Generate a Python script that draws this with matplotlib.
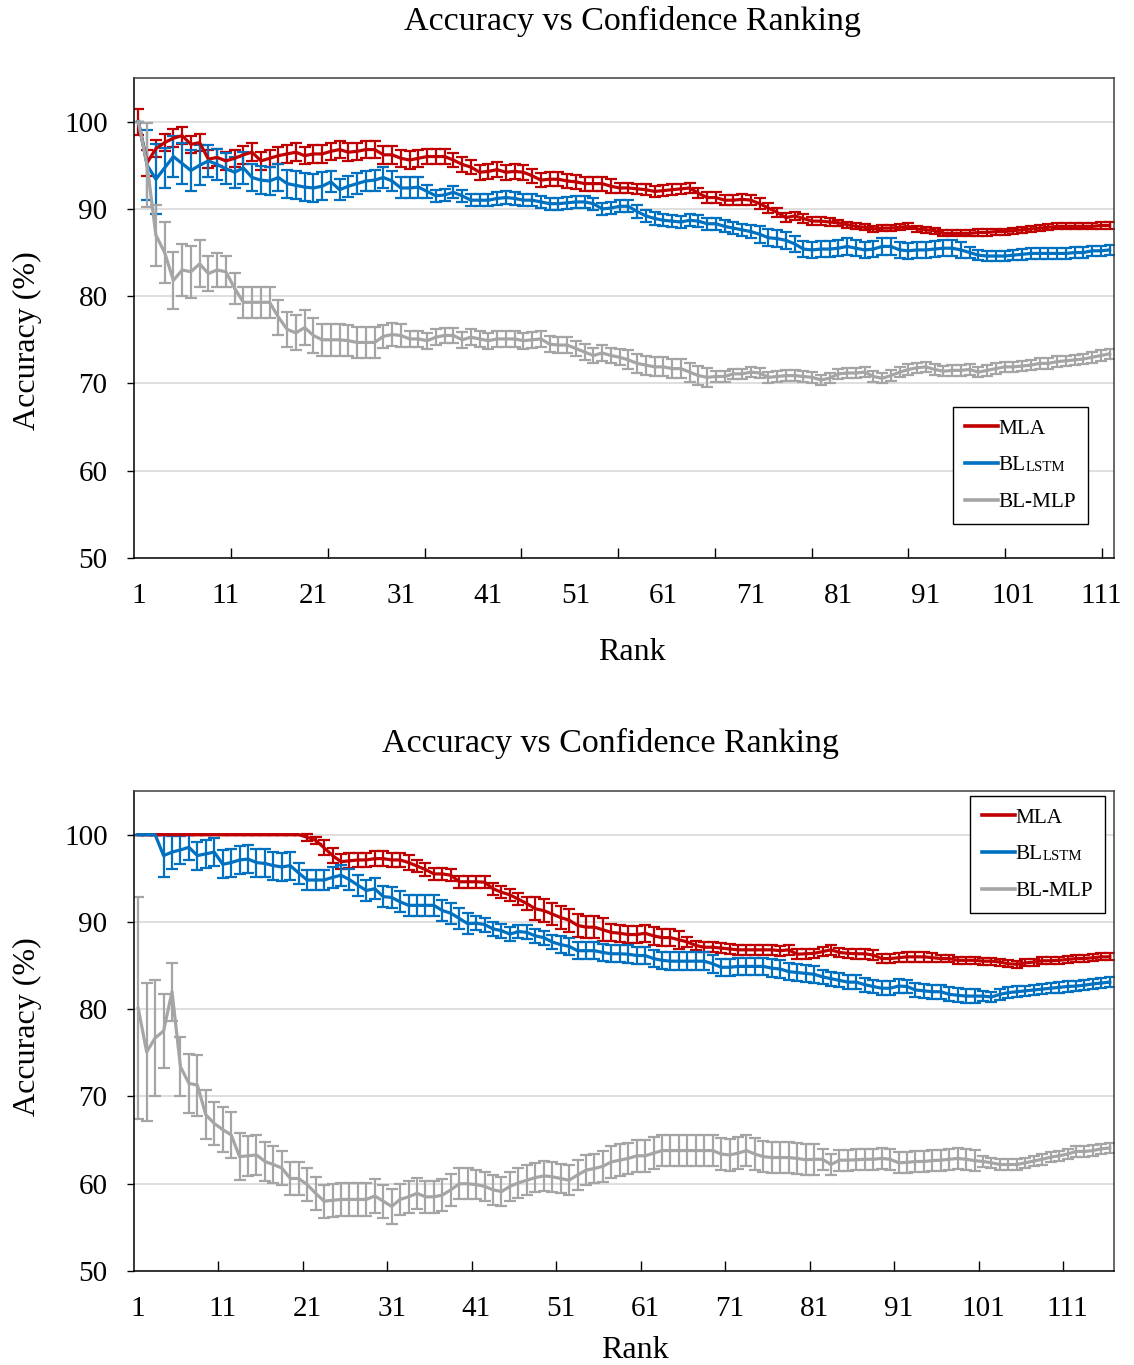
import matplotlib
matplotlib.use("Agg")
import matplotlib.pyplot as plt
from matplotlib.lines import Line2D
import numpy as np

plt.rcParams["font.family"] = ["Liberation Serif", "DejaVu Serif"]

# ---- upper chart (112 ranks) ----
top_mla = [
    100, 95.3, 96.9, 97.6, 98.1, 98.4, 97.4, 97.6, 95.7, 95.9,
    95.5, 95.8, 96.2, 96.5, 95.5, 95.8, 96.1, 96.3, 96.5, 96.1,
    96.3, 96.3, 96.6, 96.8, 96.5, 96.6, 96.8, 96.8, 96.2, 96.2,
    95.8, 95.6, 95.8, 96.0, 96.0, 96.0, 95.6, 95.1, 94.8, 94.2,
    94.3, 94.5, 94.2, 94.3, 94.2, 93.8, 93.3, 93.4, 93.4, 93.2,
    93.1, 92.9, 92.9, 92.9, 92.6, 92.4, 92.4, 92.3, 92.2, 92.0,
    92.1, 92.2, 92.3, 92.4, 91.8, 91.3, 91.3, 91.0, 91.0, 91.1,
    91.0, 90.6, 90.1, 89.6, 89.0, 89.2, 88.9, 88.6, 88.6, 88.5,
    88.4, 88.2, 88.0, 87.9, 87.7, 87.8, 87.8, 87.9, 88.0, 87.7,
    87.6, 87.5, 87.2, 87.2, 87.2, 87.2, 87.3, 87.3, 87.4, 87.4,
    87.5, 87.6, 87.7, 87.8, 87.9, 88.0, 88.0, 88.0, 88.0, 88.0,
    88.1, 88.1,
]
top_mla_err = [
    1.5, 1.5, 1.0, 1.0, 1.0, 1.0, 1.0, 1.0, 1.0, 1.0,
    1.0, 1.0, 1.0, 1.0, 1.0, 1.0, 1.0, 1.0, 1.0, 1.0,
    1.0, 1.0, 1.0, 1.0, 1.0, 1.0, 1.0, 1.0, 1.0, 1.0,
    1.0, 1.0, 1.0, 0.85, 0.85, 0.85, 0.85, 0.85, 0.85, 0.85,
    0.85, 0.85, 0.85, 0.85, 0.85, 0.8, 0.8, 0.8, 0.8, 0.8,
    0.8, 0.8, 0.8, 0.8, 0.8, 0.6, 0.6, 0.6, 0.6, 0.6,
    0.6, 0.6, 0.6, 0.6, 0.6, 0.6, 0.6, 0.6, 0.6, 0.6,
    0.6, 0.6, 0.6, 0.5, 0.5, 0.5, 0.5, 0.5, 0.5, 0.5,
    0.35, 0.35, 0.35, 0.35, 0.35, 0.35, 0.35, 0.35, 0.35, 0.35,
    0.35, 0.35, 0.35, 0.35, 0.35, 0.35, 0.35, 0.35, 0.35, 0.35,
    0.35, 0.35, 0.35, 0.35, 0.35, 0.35, 0.35, 0.35, 0.35, 0.35,
    0.35, 0.35,
]
top_lstm = [
    100, 95.0, 93.4, 94.7, 96.0, 95.2, 94.4, 95.0, 95.5, 95.1,
    94.6, 94.2, 94.7, 93.6, 93.3, 93.2, 93.6, 92.9, 92.7, 92.5,
    92.4, 92.6, 93.1, 92.2, 92.6, 92.9, 93.2, 93.3, 93.6, 93.2,
    92.4, 92.4, 92.5, 92.0, 91.5, 91.6, 91.9, 91.5, 91.0, 91.0,
    91.0, 91.2, 91.3, 91.2, 91.0, 91.0, 90.8, 90.6, 90.6, 90.7,
    90.8, 90.8, 90.6, 90.0, 90.1, 90.3, 90.3, 89.7, 89.2, 88.9,
    88.7, 88.6, 88.5, 88.7, 88.6, 88.3, 88.3, 88.0, 87.8, 87.6,
    87.4, 87.1, 86.7, 86.6, 86.4, 86.0, 85.4, 85.3, 85.4, 85.4,
    85.5, 85.7, 85.5, 85.3, 85.4, 85.7, 85.7, 85.3, 85.2, 85.3,
    85.3, 85.4, 85.5, 85.5, 85.3, 85.0, 84.7, 84.6, 84.6, 84.6,
    84.7, 84.8, 84.9, 84.9, 84.9, 84.9, 84.9, 85.0, 85.0, 85.2,
    85.2, 85.3,
]
top_lstm_err = [
    0.0, 4.0, 4.0, 2.3, 2.3, 2.3, 2.3, 2.3, 1.8, 1.8,
    1.8, 1.8, 1.8, 1.6, 1.6, 1.6, 1.6, 1.6, 1.6, 1.6,
    1.6, 1.6, 1.2, 1.2, 1.2, 1.2, 1.2, 1.2, 1.2, 1.2,
    1.2, 1.2, 1.2, 0.7, 0.7, 0.7, 0.7, 0.7, 0.7, 0.7,
    0.7, 0.7, 0.7, 0.7, 0.7, 0.7, 0.7, 0.7, 0.7, 0.7,
    0.7, 0.7, 0.7, 0.7, 0.7, 0.7, 0.7, 0.7, 0.7, 0.7,
    0.7, 0.7, 0.7, 0.7, 0.7, 0.7, 0.7, 0.7, 0.7, 0.7,
    0.7, 0.95, 0.95, 0.95, 0.95, 0.95, 0.95, 0.95, 0.95, 0.95,
    0.95, 0.95, 0.95, 0.95, 0.95, 0.95, 0.95, 0.95, 0.95, 0.95,
    0.95, 0.95, 0.95, 0.95, 0.95, 0.6, 0.6, 0.6, 0.6, 0.6,
    0.6, 0.6, 0.6, 0.6, 0.6, 0.6, 0.6, 0.6, 0.6, 0.6,
    0.6, 0.6,
]
top_mlp = [
    100, 95.0, 87.0, 85.0, 81.8, 83.0, 82.8, 83.7, 82.6, 83.0,
    82.8, 80.9, 79.3, 79.3, 79.3, 79.3, 77.6, 76.2, 75.8, 76.4,
    75.5, 75.0, 75.0, 75.0, 74.9, 74.7, 74.7, 74.7, 75.4, 75.6,
    75.5, 75.1, 75.1, 74.9, 75.3, 75.5, 75.5, 75.0, 75.3, 75.1,
    74.9, 75.1, 75.1, 75.1, 74.9, 75.0, 75.1, 74.5, 74.4, 74.4,
    74.0, 73.6, 73.2, 73.5, 73.2, 73.0, 72.7, 72.3, 72.1, 71.9,
    71.9, 71.7, 71.7, 71.3, 70.9, 70.7, 70.8, 70.8, 71.1, 71.1,
    71.3, 71.2, 70.7, 70.8, 70.9, 70.9, 70.8, 70.7, 70.4, 70.6,
    71.1, 71.2, 71.2, 71.3, 70.8, 70.6, 70.9, 71.3, 71.6, 71.8,
    71.9, 71.6, 71.4, 71.5, 71.5, 71.6, 71.3, 71.5, 71.7, 71.9,
    71.9, 72.0, 72.1, 72.3, 72.3, 72.5, 72.6, 72.7, 72.8, 73.0,
    73.2, 73.4,
]
top_mlp_err = [
    0.0, 4.8, 3.5, 3.5, 3.3, 3.0, 3.0, 2.7, 2.0, 2.0,
    1.8, 1.8, 1.75, 1.75, 1.75, 1.75, 2.0, 2.0, 2.0, 2.0,
    2.0, 1.8, 1.8, 1.8, 1.8, 1.8, 1.8, 1.8, 1.3, 1.3,
    1.3, 0.9, 0.9, 0.9, 0.9, 0.9, 0.9, 0.9, 0.9, 0.9,
    0.9, 0.9, 0.9, 0.9, 0.9, 0.9, 0.9, 0.9, 0.9, 0.9,
    0.9, 0.9, 0.9, 0.9, 0.9, 0.9, 1.1, 1.1, 1.1, 1.1,
    1.1, 1.1, 1.1, 1.1, 1.1, 1.1, 0.6, 0.6, 0.6, 0.6,
    0.6, 0.6, 0.6, 0.6, 0.6, 0.6, 0.6, 0.6, 0.6, 0.6,
    0.6, 0.6, 0.6, 0.6, 0.6, 0.6, 0.6, 0.6, 0.6, 0.6,
    0.6, 0.6, 0.6, 0.6, 0.6, 0.6, 0.6, 0.6, 0.6, 0.6,
    0.6, 0.6, 0.6, 0.6, 0.6, 0.6, 0.6, 0.6, 0.6, 0.6,
    0.6, 0.6,
]

# ---- lower chart (116 ranks) ----
bot_mla = [
    100, 100, 100, 100, 100, 100, 100, 100, 100, 100,
    100, 100, 100, 100, 100, 100, 100, 100, 100, 100,
    99.7, 99.35, 98.5, 97.6, 96.9, 97.0, 97.1, 97.1, 97.25, 97.25,
    97.1, 97.1, 96.8, 96.4, 96.0, 95.5, 95.5, 95.35, 94.6, 94.6,
    94.6, 94.55, 93.8, 93.4, 93.1, 92.6, 92.1, 91.5, 91.3, 90.9,
    90.5, 90.2, 89.6, 89.4, 89.4, 89.1, 88.8, 88.7, 88.55, 88.55,
    88.7, 88.4, 88.2, 88.2, 87.95, 87.7, 87.3, 87.1, 87.1, 87.0,
    86.9, 86.8, 86.8, 86.8, 86.8, 86.8, 86.7, 86.8, 86.3, 86.35,
    86.4, 86.6, 86.8, 86.5, 86.4, 86.35, 86.35, 86.2, 85.8, 85.8,
    85.9, 86.0, 86.0, 86.0, 85.9, 85.8, 85.8, 85.6, 85.6, 85.6,
    85.5, 85.5, 85.4, 85.2, 85.15, 85.3, 85.4, 85.55, 85.55, 85.6,
    85.7, 85.8, 85.8, 85.9, 86.0, 86.0,
]
bot_mla_err = [
    0, 0, 0, 0, 0, 0, 0, 0, 0, 0,
    0, 0, 0, 0, 0, 0, 0, 0, 0, 0,
    0.4, 0.4, 0.85, 0.85, 0.85, 0.85, 0.85, 0.85, 0.85, 0.85,
    0.85, 0.85, 0.85, 0.7, 0.7, 0.7, 0.7, 0.7, 0.7, 0.7,
    0.7, 0.7, 0.7, 0.7, 0.7, 0.7, 0.7, 1.3, 1.3, 1.3,
    1.3, 1.3, 1.3, 1.3, 1.3, 1.3, 1.0, 1.0, 1.0, 1.0,
    1.0, 1.0, 1.0, 1.0, 1.0, 0.55, 0.55, 0.55, 0.55, 0.55,
    0.55, 0.55, 0.55, 0.55, 0.55, 0.55, 0.55, 0.55, 0.55, 0.55,
    0.55, 0.55, 0.55, 0.55, 0.55, 0.55, 0.55, 0.55, 0.55, 0.55,
    0.55, 0.55, 0.55, 0.55, 0.55, 0.4, 0.4, 0.4, 0.4, 0.4,
    0.4, 0.4, 0.4, 0.4, 0.4, 0.4, 0.4, 0.4, 0.4, 0.4,
    0.4, 0.4, 0.4, 0.4, 0.4, 0.4,
]
bot_lstm = [
    100, 100, 100, 97.6, 98.0, 98.25, 98.55, 97.6, 97.8, 98.0,
    96.6, 96.8, 97.1, 97.2, 96.8, 96.7, 96.45, 96.3, 96.45, 95.6,
    94.8, 94.8, 94.8, 95.1, 95.35, 94.85, 94.2, 93.6, 93.8, 92.9,
    92.8, 92.3, 91.9, 91.9, 91.9, 91.9, 91.3, 91.0, 90.4, 89.8,
    89.85, 89.7, 89.2, 89.0, 88.6, 88.9, 88.8, 88.4, 88.2, 87.7,
    87.4, 87.2, 86.7, 86.7, 86.7, 86.5, 86.35, 86.35, 86.3, 86.15,
    86.15, 85.8, 85.6, 85.5, 85.5, 85.5, 85.5, 85.5, 85.2, 84.8,
    84.8, 84.9, 84.9, 84.9, 84.9, 84.7, 84.6, 84.3, 84.2, 84.1,
    84.0, 83.7, 83.5, 83.3, 83.1, 83.1, 82.8, 82.6, 82.4, 82.4,
    82.65, 82.6, 82.2, 82.1, 82.0, 82.0, 81.7, 81.6, 81.5, 81.5,
    81.5, 81.4, 81.7, 81.9, 82.0, 82.1, 82.2, 82.3, 82.4, 82.5,
    82.6, 82.65, 82.75, 82.9, 83.0, 83.1,
]
bot_lstm_err = [
    0, 0, 0, 2.4, 1.9, 1.6, 1.4, 1.6, 1.6, 1.6,
    1.6, 1.6, 1.6, 1.6, 1.6, 1.6, 1.6, 1.6, 1.6, 1.2,
    1.2, 1.2, 1.2, 1.2, 1.2, 1.2, 1.2, 1.2, 1.2, 1.2,
    1.2, 1.2, 1.2, 1.2, 1.2, 1.2, 1.2, 1.2, 1.2, 1.2,
    0.8, 0.8, 0.8, 0.8, 0.8, 0.8, 0.8, 0.8, 0.8, 0.8,
    1.0, 1.0, 1.0, 1.0, 1.0, 1.0, 1.0, 1.0, 1.0, 1.0,
    1.0, 1.0, 1.0, 1.0, 1.0, 1.0, 1.0, 1.0, 1.0, 1.0,
    1.0, 1.0, 1.0, 1.0, 1.0, 1.0, 1.0, 1.0, 1.0, 1.0,
    1.0, 0.8, 0.8, 0.8, 0.8, 0.8, 0.8, 0.8, 0.8, 0.8,
    0.8, 0.8, 0.8, 0.8, 0.8, 0.8, 0.8, 0.8, 0.8, 0.8,
    0.6, 0.6, 0.6, 0.6, 0.6, 0.6, 0.6, 0.6, 0.6, 0.6,
    0.6, 0.6, 0.6, 0.6, 0.6, 0.6,
]
bot_mlp = [
    80.1, 75.1, 76.7, 77.5, 82.0, 73.4, 71.5, 71.3, 67.9, 66.9,
    66.2, 65.6, 63.1, 63.2, 63.3, 62.55, 62.2, 61.8, 60.6, 60.6,
    59.9, 58.9, 58.0, 58.1, 58.2, 58.2, 58.2, 58.2, 58.6, 58.0,
    57.4, 58.2, 58.5, 58.9, 58.5, 58.5, 58.7, 59.3, 60.0, 60.0,
    59.9, 59.7, 59.3, 59.1, 59.7, 60.1, 60.4, 60.7, 60.9, 60.8,
    60.6, 60.4, 61.0, 61.55, 61.75, 62.0, 62.5, 62.7, 62.9, 63.2,
    63.2, 63.5, 63.8, 63.8, 63.8, 63.8, 63.8, 63.8, 63.8, 63.4,
    63.3, 63.5, 63.8, 63.4, 63.1, 63.0, 63.0, 63.0, 62.9, 62.75,
    62.8, 62.8, 62.2, 62.7, 62.7, 62.75, 62.8, 62.8, 62.9, 62.8,
    62.4, 62.45, 62.55, 62.55, 62.65, 62.7, 62.8, 62.9, 62.8, 62.65,
    62.55, 62.4, 62.2, 62.2, 62.2, 62.4, 62.6, 62.8, 63.05, 63.2,
    63.4, 63.7, 63.7, 63.8, 64.0, 64.1,
]
bot_mlp_err = [
    12.7, 7.9, 6.7, 4.25, 3.3, 3.4, 3.4, 3.5, 2.8, 2.5,
    2.6, 2.6, 2.7, 2.3, 2.3, 2.2, 2.1, 2.0, 1.9, 1.9,
    1.9, 1.9, 1.9, 1.9, 1.9, 1.9, 1.9, 1.9, 1.9, 1.9,
    2.0, 1.8, 1.8, 1.8, 1.8, 1.8, 1.8, 1.8, 1.8, 1.8,
    1.7, 1.7, 1.7, 1.7, 1.7, 1.7, 1.7, 1.7, 1.7, 1.7,
    1.7, 1.7, 1.7, 1.7, 1.7, 1.8, 1.8, 1.8, 1.8, 1.8,
    1.8, 1.8, 1.8, 1.8, 1.8, 1.8, 1.8, 1.8, 1.8, 1.8,
    1.8, 1.8, 1.8, 1.8, 1.8, 1.8, 1.8, 1.8, 1.8, 1.8,
    1.8, 1.2, 1.2, 1.2, 1.2, 1.2, 1.2, 1.2, 1.2, 1.2,
    1.2, 1.2, 1.2, 1.2, 1.2, 1.2, 1.2, 1.2, 1.2, 1.2,
    0.6, 0.6, 0.6, 0.6, 0.6, 0.6, 0.6, 0.6, 0.6, 0.6,
    0.6, 0.6, 0.6, 0.6, 0.6, 0.6,
]

tick_labels = [1, 11, 21, 31, 41, 51, 61, 71, 81, 91, 101, 111]
series_names = ["MLA", "BL", "BL-MLP"]
colors = ["#C00000", "#0070C0", "#A5A5A5"]

W, H = 1134, 1365
fig = plt.figure(figsize=(W / 100, H / 100), dpi=100)


def fx(px):
    return px / W


def fy(py):
    return 1 - py / H


def draw_panel(ax, values, errors, boundary_ticks):
    n = len(values[0])
    x = np.arange(1, n + 1)
    for y, e, c in zip(values, errors, colors):
        ax.errorbar(x, y, yerr=e, color=c, lw=2.3, elinewidth=1.6,
                    capsize=4.2, capthick=1.6)
    ax.set_xlim(0.5, n + 0.5)
    ax.set_ylim(50, 105)
    ax.set_yticks([50, 60, 70, 80, 90, 100])
    ax.set_xticks(tick_labels)
    ax.set_xticks(boundary_ticks, minor=True)
    ax.tick_params(axis="x", which="major", length=0, pad=18, labelsize=21)
    ax.tick_params(axis="x", which="minor", direction="in", length=7, width=1)
    ax.tick_params(axis="y", direction="out", length=5, width=1, pad=14,
                   labelsize=21)
    ax.yaxis.grid(True, color="#D9D9D9", lw=1.2)
    ax.set_axisbelow(True)
    for side in ["top", "right"]:
        ax.spines[side].set_color("#404040")
    for side in ax.spines:
        ax.spines[side].set_linewidth(1.1)


ax1 = fig.add_axes([fx(134), fy(558), 980 / W, 480 / H])
draw_panel(ax1, [top_mla, top_lstm, top_mlp],
           [top_mla_err, top_lstm_err, top_mlp_err],
           np.linspace(11.6, 111.1, 10))

ax2 = fig.add_axes([fx(134), fy(1271), 980 / W, 480 / H])
draw_panel(ax2, [bot_mla, bot_lstm, bot_mlp],
           [bot_mla_err, bot_lstm_err, bot_mlp_err],
           np.arange(10.5, 116, 10))

title = "Accuracy vs Confidence Ranking"
fig.text(fx(632), fy(21), title, ha="center", va="center", fontsize=24.5)
fig.text(fx(610), fy(743), title, ha="center", va="center", fontsize=24.5)
fig.text(fx(632), fy(652), "Rank", ha="center", va="center", fontsize=23)
fig.text(fx(635), fy(1350), "Rank", ha="center", va="center", fontsize=23)
fig.text(fx(27), fy(341), "Accuracy (%)", ha="center", va="center",
         rotation=90, fontsize=23)
fig.text(fx(27), fy(1027), "Accuracy (%)", ha="center", va="center",
         rotation=90, fontsize=23)

handles = [Line2D([], [], color=c, lw=2.6) for c in colors]
legends = []
for ax, (lx, ly) in [(ax1, (953, 407)), (ax2, (970, 796))]:
    leg = ax.legend(handles, series_names, loc="upper left",
                    bbox_to_anchor=(fx(lx), fy(ly)),
                    bbox_transform=fig.transFigure,
                    fontsize=15.3, frameon=True, fancybox=False,
                    edgecolor="black", framealpha=1, borderaxespad=0,
                    handlelength=1.55, handletextpad=0.05,
                    labelspacing=0.8, borderpad=0.55)
    leg.get_frame().set_linewidth(1.0)
    legends.append(leg)

fig.canvas.draw()
renderer = fig.canvas.get_renderer()
for leg in legends:
    bb = leg.get_texts()[1].get_window_extent(renderer)
    x0, y0 = fig.transFigure.inverted().transform((bb.x1, bb.y0))
    fig.text(x0, y0 + 1.5 / H, "LSTM", ha="left", va="bottom", fontsize=10.7)

fig.savefig("out.png", dpi=100)
